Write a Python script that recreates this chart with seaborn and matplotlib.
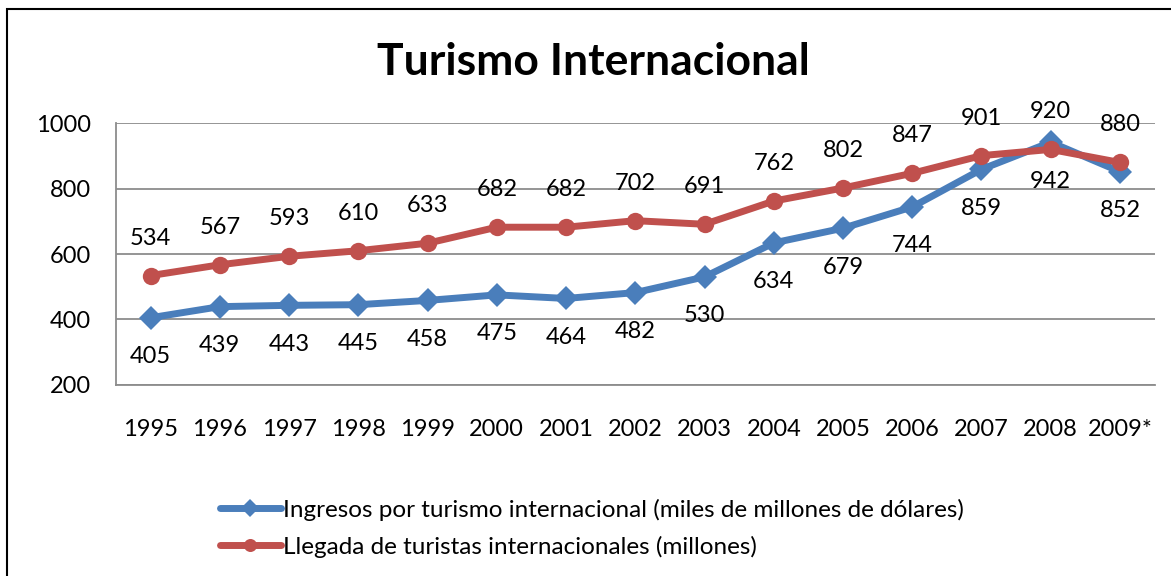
import seaborn as sns
import matplotlib.pyplot as plt
import pandas as pd
from matplotlib.patches import Rectangle

# data
years = ["1995", "1996", "1997", "1998", "1999", "2000", "2001", "2002",
         "2003", "2004", "2005", "2006", "2007", "2008", "2009*"]
ingresos = [405, 439, 443, 445, 458, 475, 464, 482, 530, 634, 679, 744, 859, 942, 852]
llegadas = [534, 567, 593, 610, 633, 682, 682, 702, 691, 762, 802, 847, 901, 920, 880]

s_ingresos = "Ingresos por turismo internacional (miles de millones de dólares)"
s_llegadas = "Llegada de turistas internacionales (millones)"

df = pd.DataFrame({
    "year": years * 2,
    "value": ingresos + llegadas,
    "serie": [s_ingresos] * len(years) + [s_llegadas] * len(years),
})

sns.set_style("white")
plt.rcParams["font.family"] = ["Lato", "DejaVu Sans"]
plt.rcParams["text.color"] = "black"
plt.rcParams["xtick.color"] = "black"
plt.rcParams["ytick.color"] = "black"

fig = plt.figure(figsize=(11.71, 5.76), dpi=100)
ax = fig.add_axes([0.099, 0.332, 0.887, 0.454])

palette = {s_ingresos: "#4A7EBB", s_llegadas: "#C0504D"}
markers = {s_ingresos: "D", s_llegadas: "o"}
sns.lineplot(data=df, x="year", y="value", hue="serie", style="serie",
             palette=palette, markers=markers, dashes=False, sort=False,
             linewidth=5, markersize=12.5, markeredgewidth=0, ax=ax)

# value labels: blue below, red above
for x, v in zip(years, ingresos):
    ax.annotate(str(v), (x, v), xytext=(0, -28), textcoords="offset points",
                ha="center", va="center", fontsize=17)
for x, v in zip(years, llegadas):
    ax.annotate(str(v), (x, v), xytext=(0, 27), textcoords="offset points",
                ha="center", va="center", fontsize=17)

ax.set_ylim(200, 1000)
ax.set_yticks([200, 400, 600, 800, 1000])
ax.set_xlim(-0.5, len(years) - 0.5)
ax.yaxis.grid(True, color="#8C8C8C", linewidth=1.3)
ax.set_axisbelow(True)
for side in ["top", "right"]:
    ax.spines[side].set_visible(False)
for side in ["left", "bottom"]:
    ax.spines[side].set_color("#8C8C8C")
    ax.spines[side].set_linewidth(1.3)
ax.tick_params(axis="y", length=0, pad=18, labelsize=17)
ax.tick_params(axis="x", length=0, pad=25, labelsize=17)
ax.set_xlabel("")
ax.set_ylabel("")

fig.text(0.507, 0.893, "Turismo Internacional", ha="center", va="center",
         fontsize=32, fontweight="bold")

handles, labels = ax.get_legend_handles_labels()
ax.legend(handles, labels, loc="upper left", bbox_to_anchor=(0.1, -0.435),
          frameon=False, fontsize=17.5, handlelength=2.5, handletextpad=0.1,
          labelspacing=0.62, borderaxespad=0, borderpad=0, markerscale=0.75)

# outer chart border
fig.patches.append(Rectangle((7 / 1171, -0.05), 1.2, 0.05 + (576 - 9) / 576,
                             transform=fig.transFigure, fill=False,
                             edgecolor="black", linewidth=1.5))

fig.savefig("out.png", dpi=100)
